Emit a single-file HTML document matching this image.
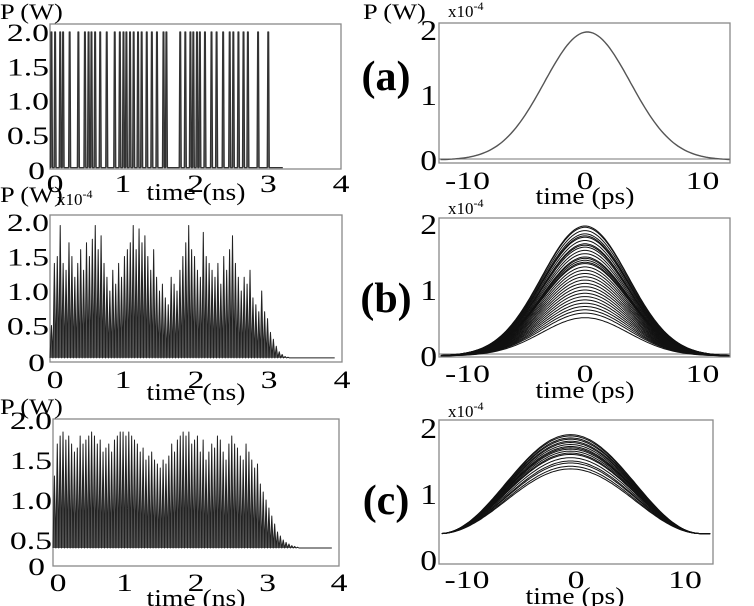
<!DOCTYPE html>
<html><head><meta charset="utf-8"><style>
html,body{margin:0;padding:0;background:#fff;}
svg{display:block;font-family:"Liberation Serif",serif;}
</style></head><body>
<svg id="fig" width="754" height="606" viewBox="0 0 754 606" xmlns="http://www.w3.org/2000/svg"></svg>
<script>
// ---- data ----
const trainPulseTimes = [0.02,0.07,0.14,0.18,0.27,0.39,0.48,0.53,0.57,0.62,0.69,0.78,0.89,0.96,1.01,1.05,1.10,1.15,1.21,1.26,1.33,1.40,1.47,1.56,1.60,1.79,1.86,1.93,1.97,2.02,2.06,2.13,2.22,2.29,2.38,2.47,2.52,2.59,2.66,2.72,2.86,3.00];
const trainPulseHeight = 2.0;
const slotNs = 0.04;
const trainBPeaks = [0.5,1.4,1.5,1.95,1.4,1.3,1.7,1.5,1.2,1.4,
1.6,1.3,1.7,1.5,1.75,1.95,1.6,1.8,1.4,1.2,
1.0,1.3,1.1,1.4,1.2,1.5,1.6,1.7,1.95,1.6,
1.9,1.7,1.8,1.5,1.3,1.6,1.2,1.0,1.1,0.9,
0.8,1.2,1.1,1.0,1.3,1.5,1.7,1.95,1.6,1.5,
1.3,1.2,1.85,1.5,1.4,1.3,1.2,1.4,1.1,1.5,
1.3,1.6,1.8,1.4,1.2,1.0,1.2,1.1,1.3,0.9,
0.8,0.7,1.0,0.7,0.6,0.4,0.3,0.2,0.12,0.08,
0.05,0.04,0.03,0.02,0.01,0.01,0];
const trainBFloor = 0.03;
const trainCPeaks = [1.3,1.7,1.8,1.85,1.75,1.8,1.7,1.6,1.65,1.8,
1.7,1.75,1.8,1.85,1.8,1.7,1.75,1.6,1.65,1.7,
1.6,1.75,1.8,1.85,1.85,1.8,1.85,1.8,1.75,1.7,
1.6,1.65,1.5,1.55,1.6,1.5,1.45,1.4,1.5,1.45,
1.55,1.7,1.6,1.75,1.8,1.85,1.8,1.85,1.7,1.75,
1.8,1.6,1.75,1.5,1.6,1.7,1.65,1.8,1.75,1.6,
1.5,1.7,1.8,1.7,1.65,1.55,1.5,1.7,1.6,1.5,
1.4,1.45,1.2,1.1,1.0,0.9,0.8,0.7,0.6,0.55,
0.5,0.47,0.45,0.43,0.42,0.41,0.4,0.4,0.4,0.4];
const trainCFloor = 0.4;
const pulseAAmp = 1.97, pulseACenter = 0.2, pulseASigma = 3.66;
const pulseBAmps = [1.97,1.95,1.9,1.85,1.82,1.8,1.75,1.7,1.68,1.65,1.6,1.55,1.5,1.48,1.45,1.42,1.4,1.35,1.3,1.25,1.2,1.15,1.1,1.05,1.0,0.95,0.9,0.85,0.8,0.75,0.7,0.65,0.58];
const pulseBSigma = 3.7;
const pulseCAmps = [1.9,1.88,1.85,1.83,1.8,1.78,1.75,1.72,1.7,1.68,1.65,1.62,1.6,1.55,1.5,1.47,1.42,1.38];
const pulseCFloor = 0.4, pulseCCenter = -0.5, pulseCHalfPeriod = 12;
const nsTicks = ["0","1","2","3","4"];
const psTicks = ["-10","0","10"];

// ---- helpers ----
const svg = document.getElementById('fig');
const NS = 'http://www.w3.org/2000/svg';
function mk(tag, attrs, parent){const e=document.createElementNS(NS,tag);for(const k in attrs)e.setAttribute(k,attrs[k]);(parent||svg).appendChild(e);return e;}
function txt(s,x,y,size,anchor,name,weight,sx){const t=mk('text',{x:0,y:0,transform:`translate(${x},${y}) scale(${sx||1},1)`,'font-size':size,'text-anchor':anchor||'start',fill:'#000','font-weight':weight||'normal'});t.textContent=s;return t;}
function tick(s,x,y,anchor){return txt(s,x,y,25,anchor,'tick-label','normal',1.35);}
function sup(x,y,name){const t=mk('text',{x:x,y:y,'font-size':17,fill:'#000'});t.textContent='x10';const s=mk('tspan',{'font-size':12,dy:-7},t);s.textContent='-4';return t;}
function box(x0,y0,x1,y1,name){const g=mk('g',{});
 const r=mk('rect',{x:x0,y:y0,width:x1-x0,height:y1-y0,fill:'none',stroke:'#888','stroke-width':1.3},g);return g;}

// ---- panel 1: input train ----
(function(){
 const X0=50,X1=341,Y0=24,Y1=169;const g=box(X0,Y0,X1,Y1,'panel-input-train');
 const x=t=>X0+t*(X1-X0)/4, y=v=>169-68.5*v;
 let d=`M${x(0)},${y(0.02)}`;
 trainPulseTimes.forEach(t=>{d+=` L${x(t-0.014)},${y(0.02)} L${x(t-0.005)},${y(trainPulseHeight)} L${x(t+0.005)},${y(trainPulseHeight)} L${x(t+0.014)},${y(0.02)}`;});
 d+=` L${x(3.2)},${y(0.02)}`;
 const p=mk('path',{d:d,fill:'#666',stroke:'#333','stroke-width':1.3,'stroke-linejoin':'round'},g);
 
 [["2.0",2],["1.5",1.5],["1.0",1],["0.5",0.5]].forEach(([s,v])=>tick(s,49,y(v)+9,'end'));
 tick("0",45,179,'end');
 nsTicks.forEach((s,i)=>tick(s,x(i)+(i==0?5:0),192,'middle'));
 txt("time (ns)",196,200,24,'middle','x-axis-title','normal',1.15);
 txt("P (W)",0,19,22,'start','y-axis-title','normal',1.2);
})();

// ---- dense train panels ----
function dense(X0,X1,Y0,Y1,ys,peaks,floor,endT,name){
 const g=box(X0,Y0,X1,Y1,name);const x=t=>X0+t*(X1-X0)/4;
 let d=`M${x(0)},${ys(floor)}`;
 peaks.forEach((v,i)=>{const t=i*slotNs;d+=` L${x(t)},${ys(floor)} L${x(t+slotNs*0.5)},${ys(Math.max(v,floor))} L${x(t+slotNs)},${ys(floor)}`;});
 d+=` L${x(endT)},${ys(floor)}`;
 const p=mk('path',{d:d,fill:'#555',stroke:'#222','stroke-width':1,'stroke-linejoin':'round'},g);
 
 return {g,x};
}
(function(){
 const ys=v=>360-69*v;const {x}=dense(50,342,215,362,ys,trainBPeaks,trainBFloor,3.9,'panel-output-train-b');
 [["2.0",2],["1.5",1.5],["1.0",1],["0.5",0.5]].forEach(([s,v])=>tick(s,49,ys(v)+9,'end'));
 tick("0",45,371,'end');
 nsTicks.forEach((s,i)=>tick(s,x(i)+(i==0?5:0),388,'middle'));
 txt("time (ns)",196,400,24,'middle','x-axis-title','normal',1.15);
 txt("P (W)",0,202,22,'start','y-axis-title','normal',1.2);sup(57,205,'y-scale-exponent');
})();
(function(){
 const ys=v=>580-80*v;const {x}=dense(53,339,419,566,ys,trainCPeaks,trainCFloor,3.9,'panel-output-train-c');
 [["2.0",2],["1.5",1.5],["1.0",1],["0.5",0.5]].forEach(([s,v])=>tick(s,52,ys(v)+9,'end'));
 tick("0",45,575,'end');
 nsTicks.forEach((s,i)=>tick(s,x(i)+(i==0?5:0),591,'middle'));
 txt("time (ns)",196,606,24,'middle','x-axis-title','normal',1.15);
 txt("P (W)",0,414,22,'start','y-axis-title','normal',1.2);
})();

// ---- right panels ----
function curve(g,x,ys,f,stroke,w,name){let d='';for(let t=-12.3;t<=12.31;t+=0.2){d+=(d?' L':'M')+x(t).toFixed(1)+','+ys(f(t)).toFixed(1);}
 const p=mk('path',{d:d,fill:'none',stroke:stroke,'stroke-width':w},g);}
function rightLabels(x,ys,lblY,titleY,cx,lx){
 [["2",2],["1",1],["0",0]].forEach(([s,v])=>txt(s,lx,ys(v)+10,28,'end','y-tick-label','normal',1.2));
 psTicks.forEach((s,i)=>tick(s,x([-10,0,10][i]),lblY,'middle'));
 txt("time (ps)",cx,titleY,24,'middle','x-axis-title','normal',1.15);
}
(function(){
 const X0=439,X1=730;const x=t=>585+t*11.75, ys=v=>160-65*v;const g=box(X0,23,X1,163,'panel-pulse-a');
 mk('line',{x1:X0,y1:159,x2:X1,y2:159,stroke:'#777','stroke-width':1},g);
 curve(g,x,ys,t=>pulseAAmp*Math.exp(-((t-pulseACenter)**2)/(2*pulseASigma**2)),'#555',1.4,'pulse-a-line');
 rightLabels(x,ys,189,204,585,437);
 txt("P (W)",363,19,22,'start','y-axis-title','normal',1.2);sup(448,17,'y-scale-exponent');
 txt("(a)",386,90,42,'middle','panel-label-a','bold');
})();
(function(){
 const x=t=>585+t*11.75, ys=v=>356-66*v;const g=box(439,218,730,357,'panel-pulses-b');
 mk('line',{x1:439,y1:354,x2:730,y2:354,stroke:'#777','stroke-width':1},g);
 pulseBAmps.forEach(a=>curve(g,x,ys,t=>a*Math.exp(-(t*t)/(2*pulseBSigma**2)),'#111',1,'pulse-b-line'));
 rightLabels(x,ys,382,398,585,437);
 sup(448,214,'y-scale-exponent');
 txt("(b)",386,312,42,'middle','panel-label-b','bold');
})();
(function(){
 const x=t=>576+t*10.9, ys=v=>560-66*v;const g=box(439,420,713,564,'panel-pulses-c');
 pulseCAmps.forEach(a=>curve(g,x,ys,t=>{const u=Math.min(1,Math.abs(t-pulseCCenter)/pulseCHalfPeriod);return pulseCFloor+(a-pulseCFloor)*(0.5+0.5*Math.cos(Math.PI*u));},'#111',1,'pulse-c-line'));
 rightLabels(x,ys,588,604,575,437);
 sup(448,417,'y-scale-exponent');
 txt("(c)",386,514,42,'middle','panel-label-c','bold');
})();
</script>
</body></html>
